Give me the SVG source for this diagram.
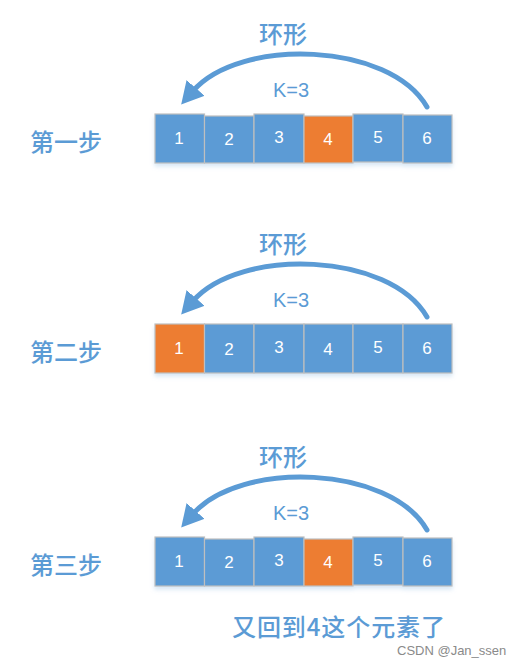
<svg xmlns="http://www.w3.org/2000/svg" width="522" height="659" viewBox="0 0 522 659">
<defs>
<style>
.b{fill:#5B9BD5;stroke:#BFBFBF;stroke-width:1.2}
.o{fill:#ED7D31;stroke:#BFBFBF;stroke-width:1.2}
.n{fill:#fff;font-family:"Liberation Sans",Arial,sans-serif;font-size:17px;text-anchor:middle}
.t{fill:#5B9BD5;font-family:"Noto Sans CJK SC",sans-serif;font-weight:500;font-size:24px;text-anchor:middle}
.k{fill:#5B9BD5;font-family:"Liberation Sans",Arial,sans-serif;font-size:20px;text-anchor:middle}
.s{fill:#5B9BD5;font-family:"Noto Sans CJK SC",sans-serif;font-weight:500;font-size:24px}
.arc{fill:none;stroke:#5B9BD5;stroke-width:5;stroke-linecap:round}
</style>
<marker id="ah" markerUnits="userSpaceOnUse" markerWidth="22" markerHeight="24" viewBox="0 0 22 24" refX="4" refY="12" orient="auto">
<path d="M0,0 L22,12 L0,24 z" fill="#5B9BD5"/>
</marker>
<filter id="sh" x="-10%" y="-10%" width="120%" height="140%">
<feDropShadow dx="0" dy="3" stdDeviation="2" flood-color="#9DC3E6" flood-opacity="0.4"/>
</filter>
</defs>

<g id="connectors">
<path class="arc" d="M427,107 C390,42 240,37 193,91" marker-end="url(#ah)"/>
<path class="arc" d="M427,317 C390,252 240,247 193,301" marker-end="url(#ah)"/>
<path class="arc" d="M427,530 C390,465 240,460 193,514" marker-end="url(#ah)"/>
</g>

<g id="step1">
<text class="t" x="283" y="43">环形</text>
<text class="k" x="291" y="97">K=3</text>
<text class="s" x="30" y="151">第一步</text>
<g filter="url(#sh)">
<rect class="b" x="155" y="114" width="49.5" height="49"/>
<rect class="b" x="204.5" y="116" width="49.5" height="47"/>
<rect class="b" x="254" y="114" width="50" height="49"/>
<rect class="o" x="304" y="116" width="49" height="47"/>
<rect class="b" x="353" y="114" width="50" height="48"/>
<rect class="b" x="403" y="115" width="49" height="48"/>
</g>
<text class="n" x="179" y="144">1</text>
<text class="n" x="229" y="145">2</text>
<text class="n" x="279" y="143">3</text>
<text class="n" x="328" y="145">4</text>
<text class="n" x="378" y="143">5</text>
<text class="n" x="427" y="144">6</text>
</g>

<g id="step2">
<text class="t" x="283" y="253">环形</text>
<text class="k" x="291" y="307">K=3</text>
<text class="s" x="30" y="361">第二步</text>
<g filter="url(#sh)">
<rect class="o" x="155" y="324" width="49.5" height="49"/>
<rect class="b" x="204.5" y="324" width="49.5" height="49"/>
<rect class="b" x="254" y="324" width="50" height="49"/>
<rect class="b" x="304" y="324" width="49" height="49"/>
<rect class="b" x="353" y="324" width="50" height="49"/>
<rect class="b" x="403" y="324" width="49" height="49"/>
</g>
<text class="n" x="179" y="354">1</text>
<text class="n" x="229" y="355">2</text>
<text class="n" x="279" y="353">3</text>
<text class="n" x="328" y="355">4</text>
<text class="n" x="378" y="353">5</text>
<text class="n" x="427" y="354">6</text>
</g>

<g id="step3">
<text class="t" x="283" y="466">环形</text>
<text class="k" x="291" y="520">K=3</text>
<text class="s" x="30" y="574">第三步</text>
<g filter="url(#sh)">
<rect class="b" x="155" y="537" width="49.5" height="49"/>
<rect class="b" x="204.5" y="539" width="49.5" height="47"/>
<rect class="b" x="254" y="537" width="50" height="49"/>
<rect class="o" x="304" y="539" width="49" height="47"/>
<rect class="b" x="353" y="537" width="50" height="48"/>
<rect class="b" x="403" y="538" width="49" height="48"/>
</g>
<text class="n" x="179" y="567">1</text>
<text class="n" x="229" y="568">2</text>
<text class="n" x="279" y="566">3</text>
<text class="n" x="328" y="568">4</text>
<text class="n" x="378" y="566">5</text>
<text class="n" x="427" y="567">6</text>
</g>

<g id="note">
<text class="s" x="232" y="636" textLength="213">又回到4这个元素了</text>
</g>
<text x="397" y="655" font-family="Liberation Sans,Arial,sans-serif" font-size="13" fill="#8a8a8a">CSDN @Jan_ssen</text>
</svg>
